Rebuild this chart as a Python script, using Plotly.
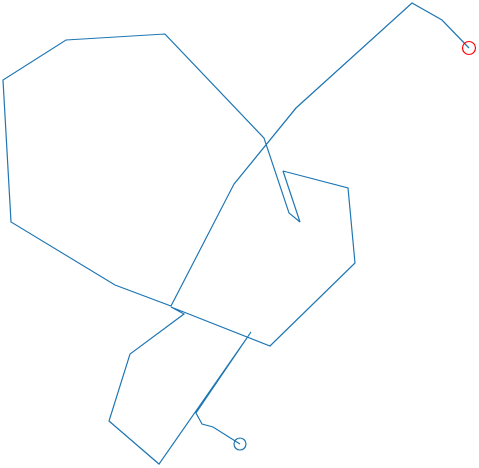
import plotly.graph_objects as go

# Path of the walk (x, y in plot units; y measured downward from the top)
walk_x = [469, 442, 412, 296, 234, 171, 115, 11, 3, 66, 165, 264, 289, 300, 283,
          348, 355, 270, 171, 184, 130, 109, 159, 251, 196, 202, 213, 240]
walk_y = [48, 20, 3, 108, 184, 306, 285, 222, 80, 40, 34, 138, 213, 222, 171,
          188, 263, 346, 307, 314, 354, 421, 464, 332, 413, 424, 427, 444]

line_color = "#1f77b4"

fig = go.Figure()
fig.add_trace(go.Scatter(x=walk_x, y=walk_y, mode="lines",
                         line=dict(color=line_color, width=1.2),
                         cliponaxis=False,
                         showlegend=False, hoverinfo="skip"))
fig.add_trace(go.Scatter(x=[walk_x[0]], y=[walk_y[0]], mode="markers",
                         marker=dict(symbol="circle-open", size=13, color="red",
                                     line=dict(width=1.2, color="red")),
                         cliponaxis=False, showlegend=False))
fig.add_trace(go.Scatter(x=[walk_x[-1]], y=[walk_y[-1]], mode="markers",
                         marker=dict(symbol="circle-open", size=12, color=line_color,
                                     line=dict(width=1.2, color=line_color)),
                         cliponaxis=False, showlegend=False))

fig.update_layout(
    width=479, height=468,
    margin=dict(l=0, r=0, t=0, b=0),
    paper_bgcolor="white", plot_bgcolor="white",
    xaxis=dict(range=[0, 479], visible=False, fixedrange=True),
    yaxis=dict(range=[468, 0], visible=False, fixedrange=True),
)
fig.write_html("out.html", config={"displayModeBar": False},
               post_script="document.body.style.margin='0';document.body.style.padding='0';")
